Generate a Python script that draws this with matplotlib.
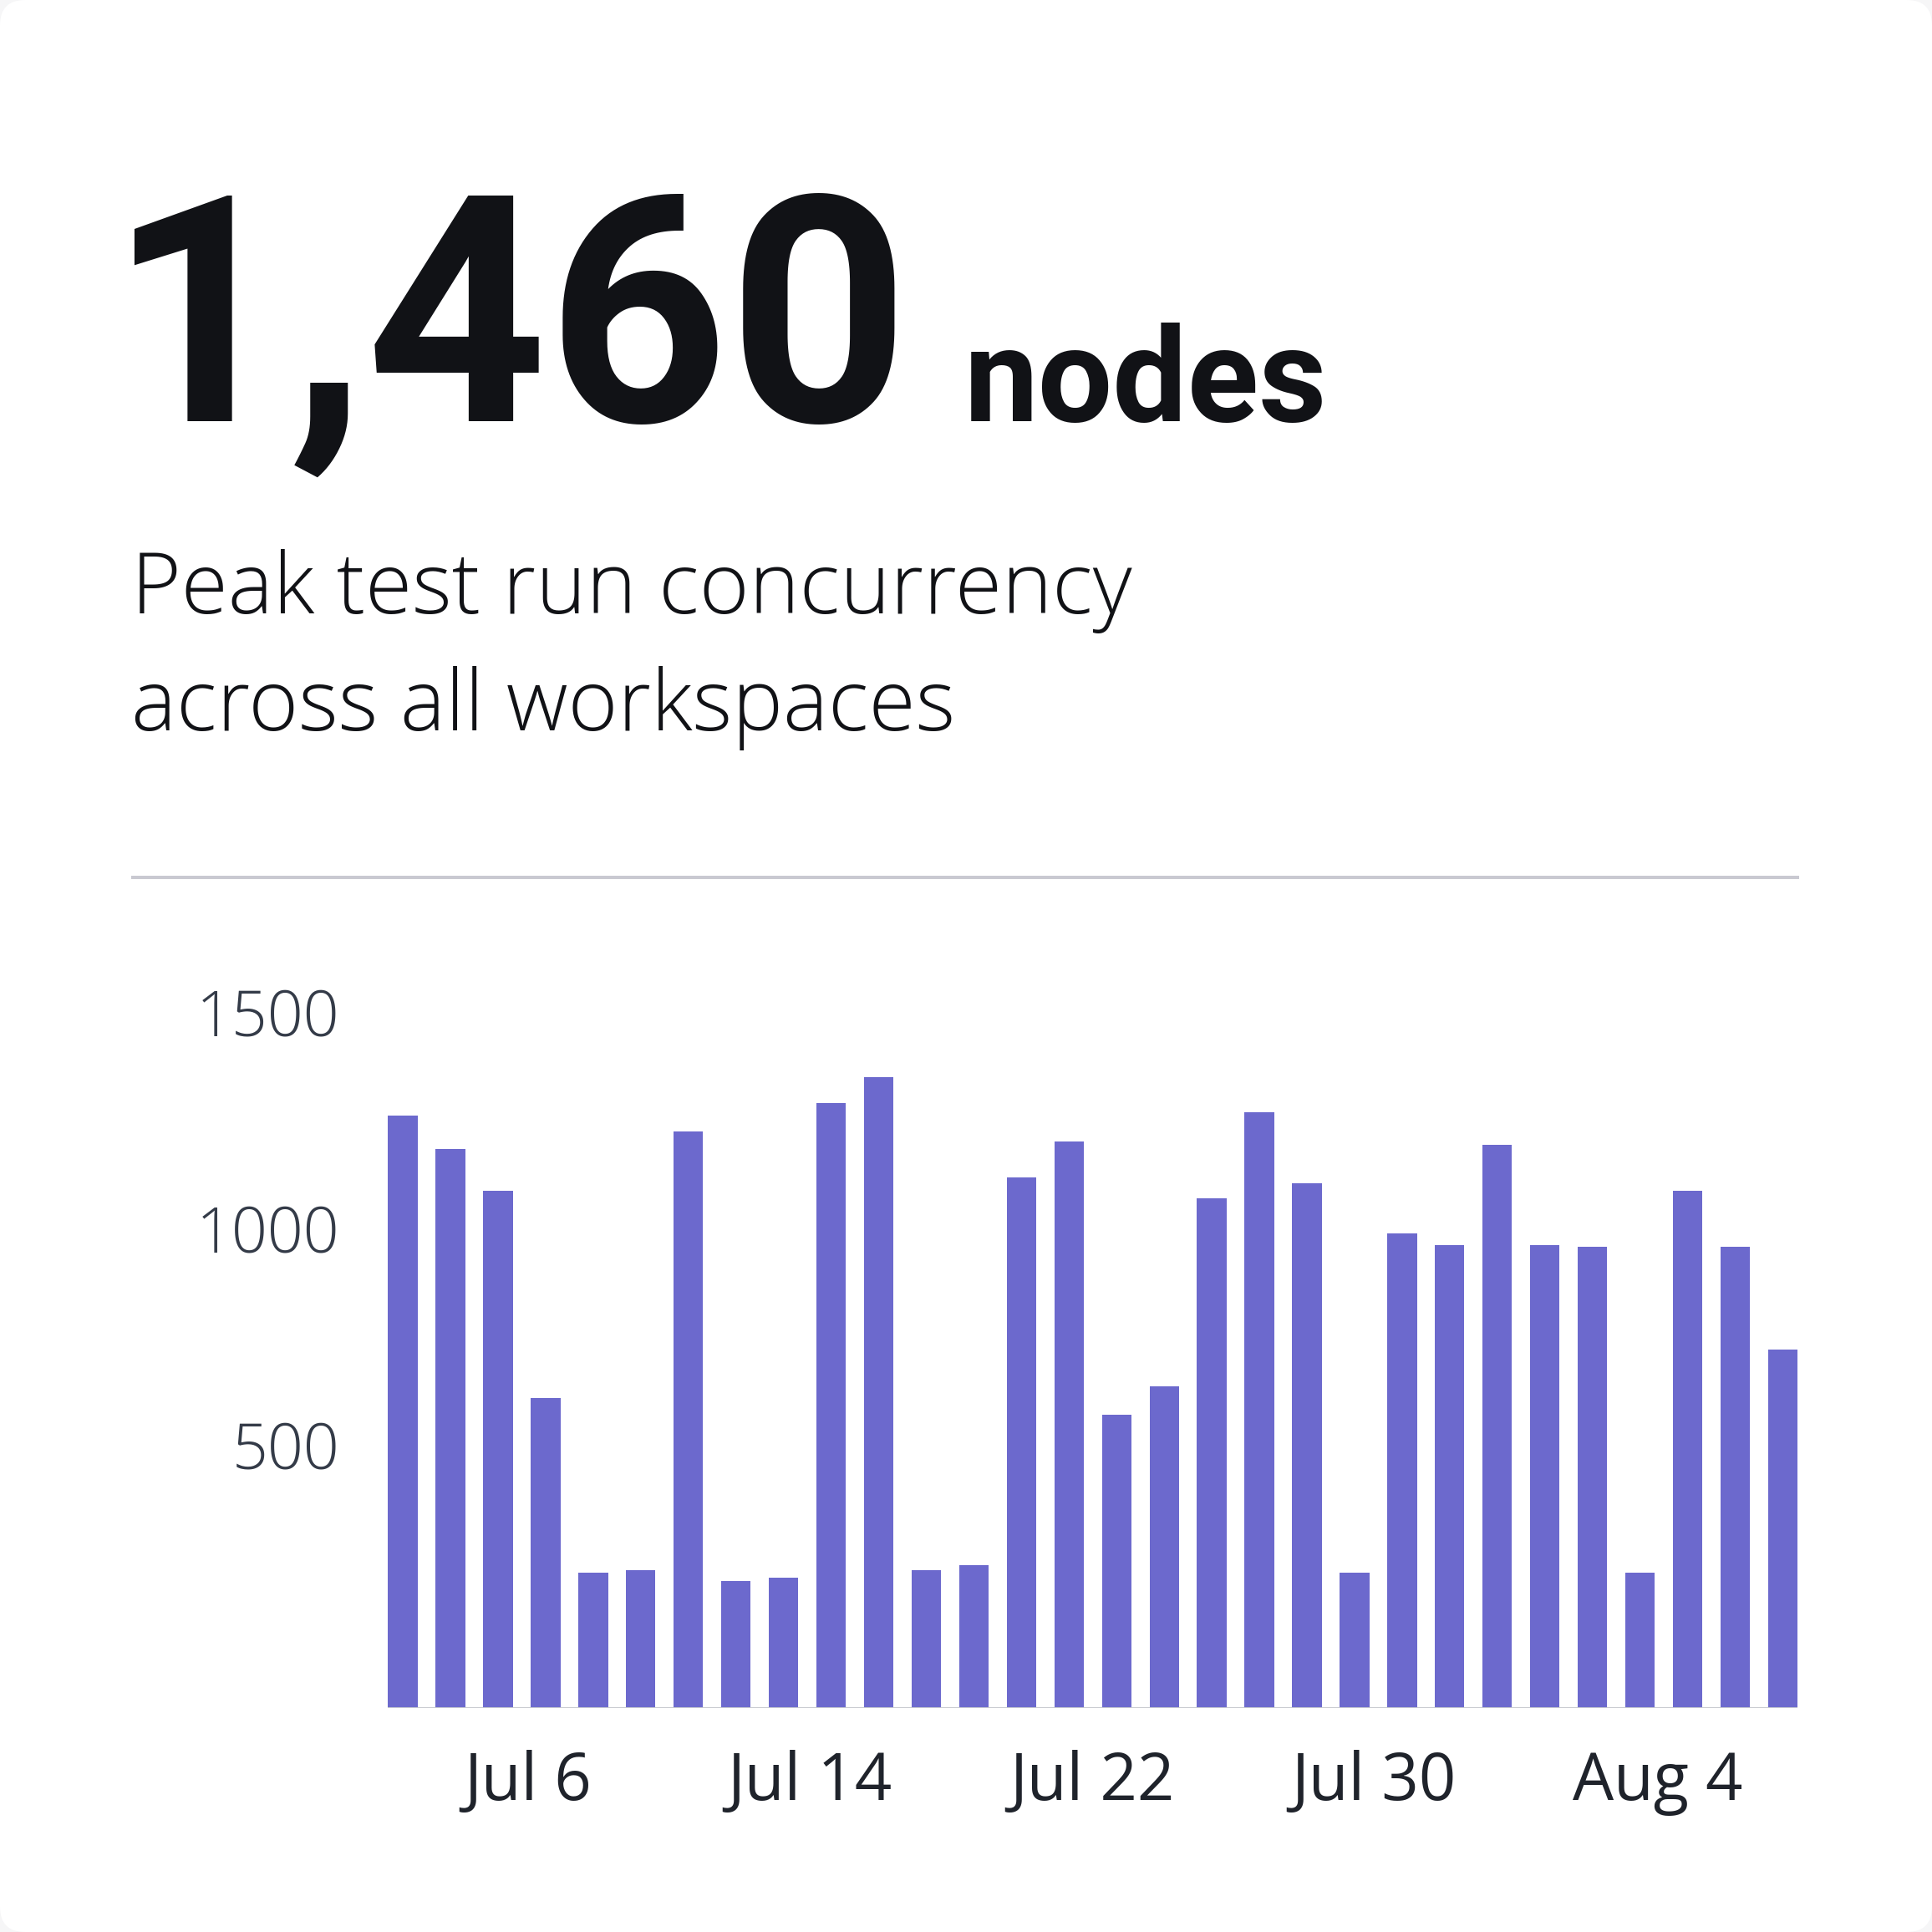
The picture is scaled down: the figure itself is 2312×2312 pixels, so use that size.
import matplotlib
matplotlib.use("Agg")
import matplotlib.pyplot as plt
import matplotlib.transforms as mtransforms
from matplotlib.patches import FancyBboxPatch
from matplotlib.lines import Line2D

# ---- data ----
peak_value = "1,460"
unit = "nodes"
subtitle_lines = ["Peak test run concurrency", "across all workspaces"]
values = [1370, 1293, 1197, 718, 313, 319, 1333, 293, 302, 1399,
          1460, 319, 330, 1228, 1311, 678, 744, 1179, 1379, 1214,
          313, 1097, 1071, 1302, 1071, 1066, 313, 1197, 1066, 829]
xtick_labels = ["Jul 6", "Jul 14", "Jul 22", "Jul 30", "Aug 4"]
xtick_pos = [2.62, 8.55, 14.48, 20.41, 26.37]
ytick_vals = [500, 1000, 1500]

BAR = "#6c69cd"
FONT = "Roboto"
FONT2 = "Open Sans"

fig = plt.figure(figsize=(23.12, 23.12), dpi=100)
fig.patch.set_facecolor("#f6f6f7")
card = FancyBboxPatch((0, 0), 1, 1, boxstyle="round,pad=0,rounding_size=0.013",
                      transform=fig.transFigure, facecolor="white", edgecolor="none", zorder=-5)
fig.patches.append(card)

# headline
fig.text(0.056, 0.782, peak_value, fontsize=272, fontweight="bold", family=FONT,
         color="#111216", ha="left", va="baseline")
fig.text(0.499, 0.782, unit, fontsize=114, fontweight="bold", family=FONT,
         color="#111216", ha="left", va="baseline")
fig.text(0.068, 0.6825, subtitle_lines[0], fontsize=73.5, fontweight=300,
         family=FONT2, color="#111216", ha="left", va="baseline")
fig.text(0.068, 0.622, subtitle_lines[1], fontsize=73.5, fontweight=300,
         family=FONT2, color="#111216", ha="left", va="baseline")

# divider
fig.add_artist(Line2D([0.0688, 0.9304], [0.5458, 0.5458], transform=fig.transFigure,
                      color="#c9c9d1", linewidth=2.9))

ax = fig.add_axes([0.2009, 0.1159, 0.7295, 0.3357])
ax.set_facecolor("none")
ax.set_zorder(2)
x = list(range(len(values)))
ax.bar(x, values, width=0.62, color=BAR, zorder=2)
ax.set_xlim(-0.31, len(values) - 1 + 0.31)
ax.set_ylim(0, 1500)
for s in ax.spines.values():
    s.set_visible(False)
ax.axhline(0, color="#c8cad0", linewidth=1.5, zorder=3)

ax.set_xticks(xtick_pos)
ax.set_xticklabels(xtick_labels, fontsize=56, family=FONT2, color="#1f232b")
ax.tick_params(axis="x", length=0, pad=36)

ax.set_yticks(ytick_vals)
ax.set_yticklabels([str(v) for v in ytick_vals], fontsize=54, family=FONT2,
                   color="#343b48", fontweight=300)
ax.tick_params(axis="y", length=0, pad=42)
offset = mtransforms.ScaledTranslation(0, 0.57, fig.dpi_scale_trans)
for lab in ax.get_yticklabels():
    lab.set_transform(lab.get_transform() + offset)

fig.savefig("out.png", dpi=100, facecolor=fig.get_facecolor())
